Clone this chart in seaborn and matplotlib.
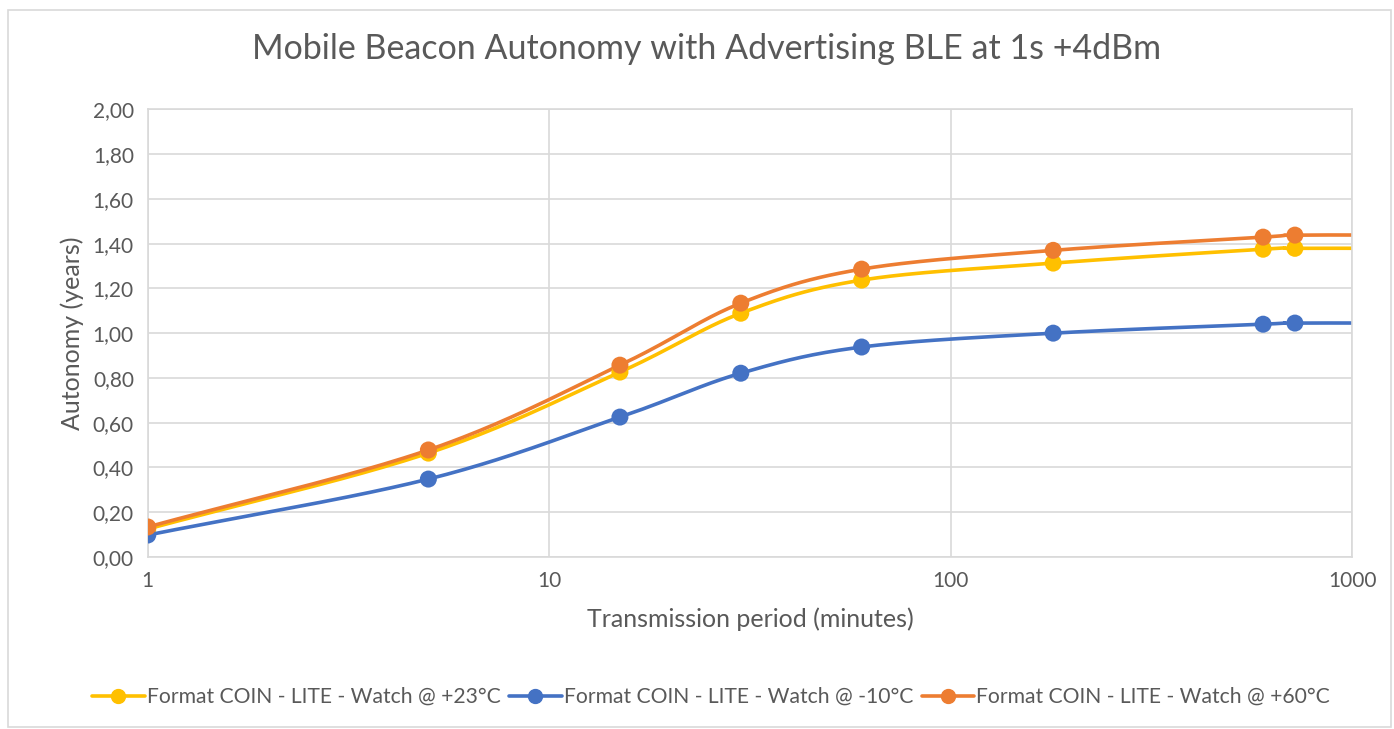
import numpy as np
import pandas as pd
import seaborn as sns
import matplotlib.pyplot as plt
from matplotlib.ticker import FuncFormatter, FixedLocator, NullLocator
from matplotlib.patches import Rectangle

# data (transmission period in minutes, autonomy in years)
period = [1, 5, 15, 30, 60, 180, 600, 720, 1440]
warm23 = [0.125, 0.464, 0.826, 1.089, 1.237, 1.313, 1.375, 1.379, 1.379]
cold10 = [0.098, 0.348, 0.625, 0.821, 0.938, 1.000, 1.040, 1.045, 1.045]
hot60 = [0.134, 0.478, 0.857, 1.134, 1.286, 1.370, 1.429, 1.438, 1.438]

labels = [
    "Format COIN - LITE - Watch @ +23°C",
    "Format COIN - LITE - Watch @ -10°C",
    "Format COIN - LITE - Watch @ +60°C",
]
colors = ["#FFC000", "#4472C4", "#ED7D31"]


def smooth(x, y, n=40):
    # Catmull-Rom style smoothing in log-x space (like Excel's smoothed line)
    lx = np.log10(x)
    y = np.asarray(y, dtype=float)
    px = np.concatenate([[2 * lx[0] - lx[1]], lx, [2 * lx[-1] - lx[-2]]])
    py = np.concatenate([[2 * y[0] - y[1]], y, [2 * y[-1] - y[-2]]])
    xs, ys = [], []
    for i in range(1, len(px) - 2):
        t = np.linspace(0, 1, n)
        x0, x1, x2, x3 = px[i - 1:i + 3]
        y0, y1, y2, y3 = py[i - 1:i + 3]
        # bezier control points
        cx1 = x1 + (x2 - x0) / 6
        cx2 = x2 - (x3 - x1) / 6
        cy1 = y1 + (y2 - y0) / 6
        cy2 = y2 - (y3 - y1) / 6
        bx = (1 - t) ** 3 * x1 + 3 * (1 - t) ** 2 * t * cx1 + 3 * (1 - t) * t ** 2 * cx2 + t ** 3 * x2
        by = (1 - t) ** 3 * y1 + 3 * (1 - t) ** 2 * t * cy1 + 3 * (1 - t) * t ** 2 * cy2 + t ** 3 * y2
        xs.append(bx)
        ys.append(by)
    return 10 ** np.concatenate(xs), np.concatenate(ys)


sns.set_theme(style="white")
plt.rcParams["font.family"] = ["Lato", "DejaVu Sans"]

fig = plt.figure(figsize=(13.94, 7.29), dpi=100)
ax = fig.add_axes([0.106, 0.236, 0.864, 0.614])

series = [warm23, cold10, hot60]
for vals, lab, col in zip(series, labels, colors):
    sx, sy = smooth(period, vals)
    curve = pd.DataFrame({"x": sx, "y": sy})
    sns.lineplot(data=curve, x="x", y="y", ax=ax, color=col, linewidth=2.6,
                 sort=False, estimator=None)
    pts = pd.DataFrame({"x": period, "y": vals})
    sns.scatterplot(data=pts, x="x", y="y", ax=ax, color=col, s=150,
                    edgecolor="none", zorder=3)

ax.set_xscale("log")
ax.set_xlim(1, 1000)
ax.set_ylim(0, 2.0)
ax.xaxis.set_major_locator(FixedLocator([1, 10, 100, 1000]))
ax.xaxis.set_minor_locator(NullLocator())
ax.xaxis.set_major_formatter(FuncFormatter(lambda v, p: f"{int(v)}"))
ax.set_yticks(np.arange(0, 2.01, 0.2))
ax.yaxis.set_major_formatter(FuncFormatter(lambda v, p: f"{v:.2f}".replace(".", ",")))

ax.grid(True, color="#d9d9d9", linewidth=1.2)
ax.set_axisbelow(True)
for s in ax.spines.values():
    s.set_color("#d9d9d9")
    s.set_linewidth(1.2)
ax.tick_params(axis="both", length=0, labelsize=15, colors="#595959", pad=10)

ax.set_xlabel("Transmission period (minutes)", fontsize=18, color="#595959", labelpad=12)
ax.set_ylabel("Autonomy (years)", fontsize=18, color="#595959", labelpad=6)
fig.suptitle("Mobile Beacon Autonomy with Advertising BLE at 1s +4dBm",
             fontsize=24.5, color="#595959", x=0.507, y=0.955)

handles = [plt.Line2D([], [], color=c, linewidth=2.6, marker="o", markersize=10)
           for c in colors]
fig.legend(handles, labels, loc="center", bbox_to_anchor=(0.510, 0.044), ncol=3,
           frameon=False, fontsize=15.2, labelcolor="#595959", handlelength=2.5,
           handletextpad=0.1, columnspacing=0.4)

fig.patches.append(Rectangle((0.006, 0.003), 0.992, 0.983, transform=fig.transFigure,
                             fill=False, edgecolor="#d9d9d9", linewidth=1.2))

fig.savefig("out.png", dpi=100)
